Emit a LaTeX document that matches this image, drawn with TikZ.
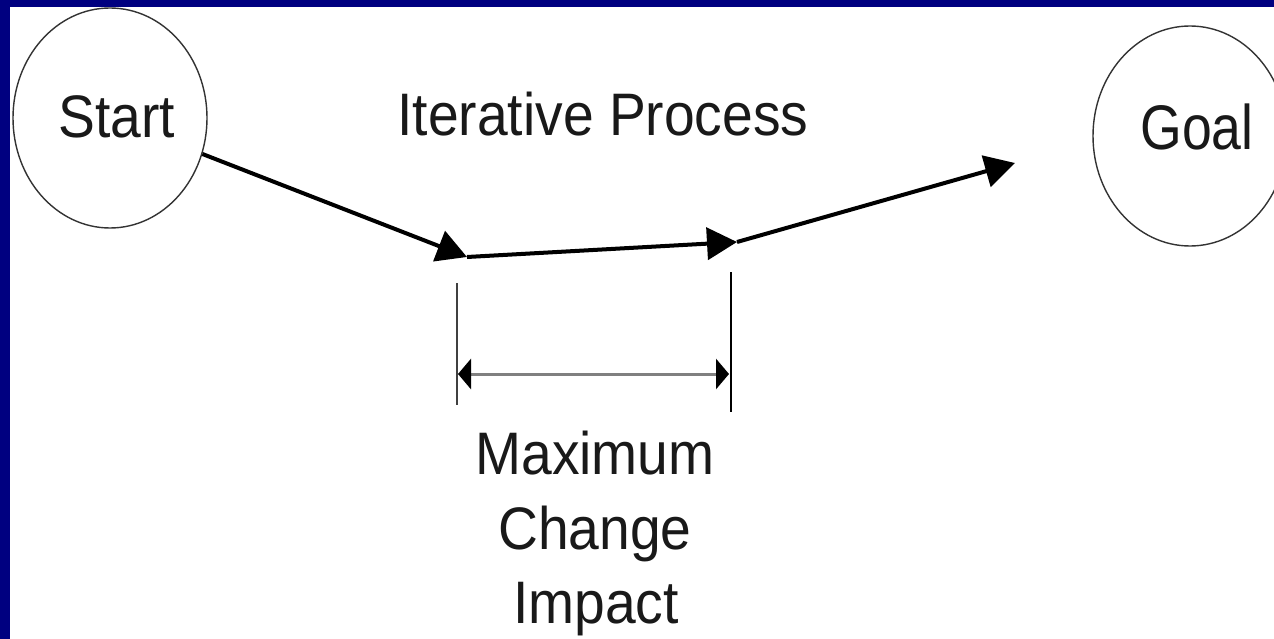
\documentclass[tikz,border=0pt]{standalone}
\usepackage{fontspec}
\setmainfont{Liberation Sans}
\usetikzlibrary{shapes.geometric,arrows.meta}
\definecolor{frameblue}{HTML}{000080}
\definecolor{dimgray}{HTML}{808080}
\tikzset{
  endcirc/.style={draw=black!80, line width=1.4pt, ellipse, minimum width=194pt, minimum height=220pt, inner sep=0pt},
  lbl/.style={inner sep=0pt, text=black!90, anchor=base},
  biglbl/.style={lbl, font=\fontsize{60}{72}\selectfont},
  flow/.style={line width=4pt, -{Triangle[length=30pt,width=32pt]}},
  tick/.style={line width=2pt},
  span/.style={draw=dimgray, line width=3pt, {Triangle[length=13pt,width=30pt,color=black]}-{Triangle[length=13pt,width=30pt,color=black]}}
}
\begin{document}
\begin{tikzpicture}[x=1pt,y=-1pt]
\useasboundingbox (0,0) rectangle (1274,639);
\clip (0,0) rectangle (1274,639);
\fill[frameblue] (0,0) rectangle (1274,639);
\fill[white] (10,7) rectangle (1274,639);
% end nodes
\node[endcirc] (start) at (110,118) {};
\node[endcirc] (goal) at (1190,136) {};
\node[biglbl] (starttxt) at (117,138) {\scalebox{0.92}[1]{Start}};
\node[lbl, font=\fontsize{63}{75}\selectfont] (goaltxt) at (1197,150) {\scalebox{0.85}[1]{Goal}};
\node[biglbl] (iter) at (603,136) {\scalebox{0.92}[1]{Iterative Process}};
% flow path
\coordinate (p1) at (467,257);
\coordinate (p2) at (737,242);
\coordinate (p3) at (1015,163);
\draw[flow] (start) -- (p1);
\draw[flow] (p1) -- (p2);
\draw[flow] (p2) -- (p3);
% dimension
\coordinate (l1) at (457,283);
\coordinate (l2) at (457,405);
\coordinate (r1) at (731,272);
\coordinate (r2) at (731,412);
\draw[tick, draw=black!75] (l1) -- (l2);
\draw[tick, draw=black] (r1) -- (r2);
\coordinate (a1) at (458,374);
\coordinate (a2) at (729,374);
\draw[span] (a1) -- (a2);
\node[biglbl] (maxtxt) at (595,474) {\scalebox{0.92}[1]{Maximum}};
\node[biglbl] (chgtxt) at (595,549) {\scalebox{0.92}[1]{Change}};
\node[biglbl] (imptxt) at (596,623) {\scalebox{0.92}[1]{Impact}};
\end{tikzpicture}
\end{document}
